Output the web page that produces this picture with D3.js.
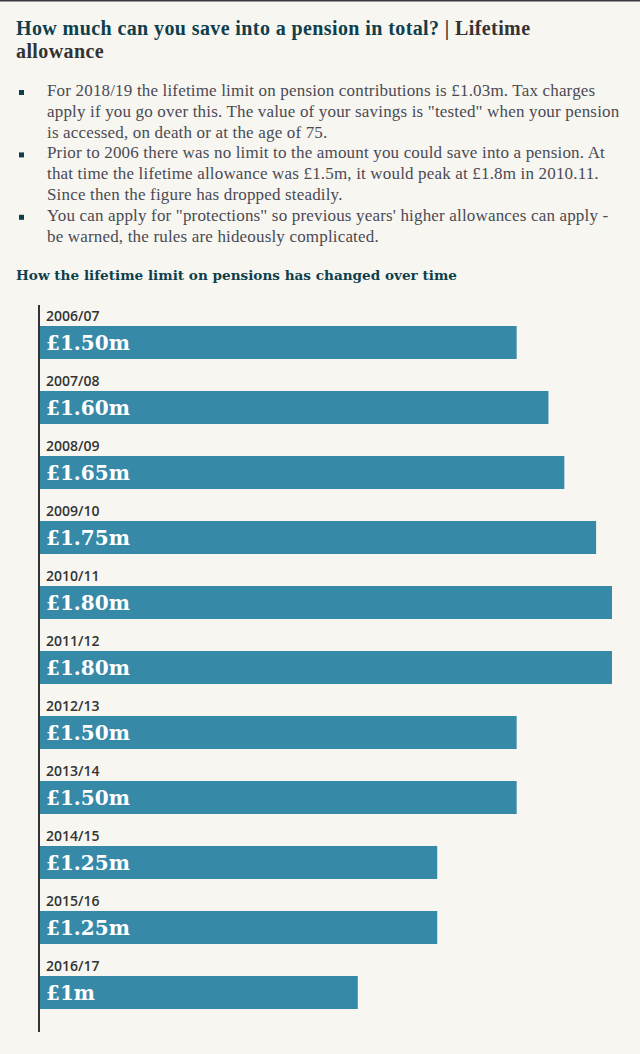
<!DOCTYPE html>
<html><head><meta charset="utf-8">
<script src="https://cdn.jsdelivr.net/npm/d3@7"></script>
<style>
html,body{margin:0;padding:0;background:#f8f6f1;}
svg{display:block;}
</style></head>
<body>
<script>
const years = ["2006/07","2007/08","2008/09","2009/10","2010/11","2011/12","2012/13","2013/14","2014/15","2015/16","2016/17"];
const values = [1.50,1.60,1.65,1.75,1.80,1.80,1.50,1.50,1.25,1.25,1.00];
const valueLabels = ["£1.50m","£1.60m","£1.65m","£1.75m","£1.80m","£1.80m","£1.50m","£1.50m","£1.25m","£1.25m","£1m"];
const titleMain = "How much can you save into a pension in total?";
const titleRest = " | Lifetime";
const titleLine2 = "allowance";
const bullets = [
 ["For 2018/19 the lifetime limit on pension contributions is £1.03m. Tax charges","apply if you go over this. The value of your savings is \"tested\" when your pension","is accessed, on death or at the age of 75."],
 ["Prior to 2006 there was no limit to the amount you could save into a pension. At","that time the lifetime allowance was £1.5m, it would peak at £1.8m in 2010.11.","Since then the figure has dropped steadily."],
 ["You can apply for \"protections\" so previous years' higher allowances can apply -","be warned, the rules are hideously complicated."]
];
const subtitle = "How the lifetime limit on pensions has changed over time";

const W=640,H=1054;
const svg=d3.select("body").append("svg").attr("width",W).attr("height",H);
svg.append("rect").attr("width",W).attr("height",H).attr("fill","#f8f6f1");
svg.append("rect").attr("width",W).attr("height",1.5).attr("fill","#3a3a40");

const serif="'Liberation Serif','Times New Roman',serif";
const t=svg.append("text").attr("x",16).attr("y",35).attr("font-family",serif).attr("font-weight","bold").attr("font-size",20).attr("letter-spacing",0.4);
t.append("tspan").attr("fill","#0e3f4c").text(titleMain);
t.append("tspan").attr("fill","#333").text(titleRest);
svg.append("text").attr("x",16).attr("y",58).attr("font-family",serif).attr("font-weight","bold").attr("font-size",20).attr("letter-spacing",0.4).attr("fill","#333").text(titleLine2);

let y=96;
bullets.forEach(b=>{
  svg.append("rect").attr("x",19).attr("y",y-6).attr("width",5).attr("height",5).attr("fill","#0e3f4c");
  b.forEach(line=>{
    svg.append("text").attr("x",47).attr("y",y).attr("font-family",serif).attr("font-size",17).attr("letter-spacing",0.17).attr("fill","#4a4a54").text(line);
    y+=20.8;
  });
});
svg.append("text").attr("x",16).attr("y",280).attr("font-family","'DejaVu Serif',serif").attr("font-weight","bold").attr("font-size",13.6).attr("fill","#0e3f4c").text(subtitle);

const x=d3.scaleLinear().domain([0,1.8]).range([40,612]);
const band=d3.scaleBand().domain(years).range([305,1020]).paddingInner(0).paddingOuter(0);
const g=svg.append("g");
years.forEach((yr,i)=>{
  const y0=band(yr);
  g.append("text").attr("x",46).attr("y",y0+16).attr("font-family","'Open Sans',sans-serif").attr("font-weight",600).attr("font-size",14).attr("fill","#333").text(yr);
  g.append("rect").attr("x",x(0)).attr("y",y0+21).attr("width",x(values[i])-x(0)).attr("height",33).attr("fill","#3789a8");
  g.append("text").attr("x",46).attr("y",y0+45).attr("font-family","'DejaVu Serif',serif").attr("font-weight","bold").attr("font-size",20).attr("fill","#fff").text(valueLabels[i]);
});
svg.append("line").attr("x1",39).attr("x2",39).attr("y1",305).attr("y2",1032).attr("stroke","#333").attr("stroke-width",2);
</script>
</body></html>
